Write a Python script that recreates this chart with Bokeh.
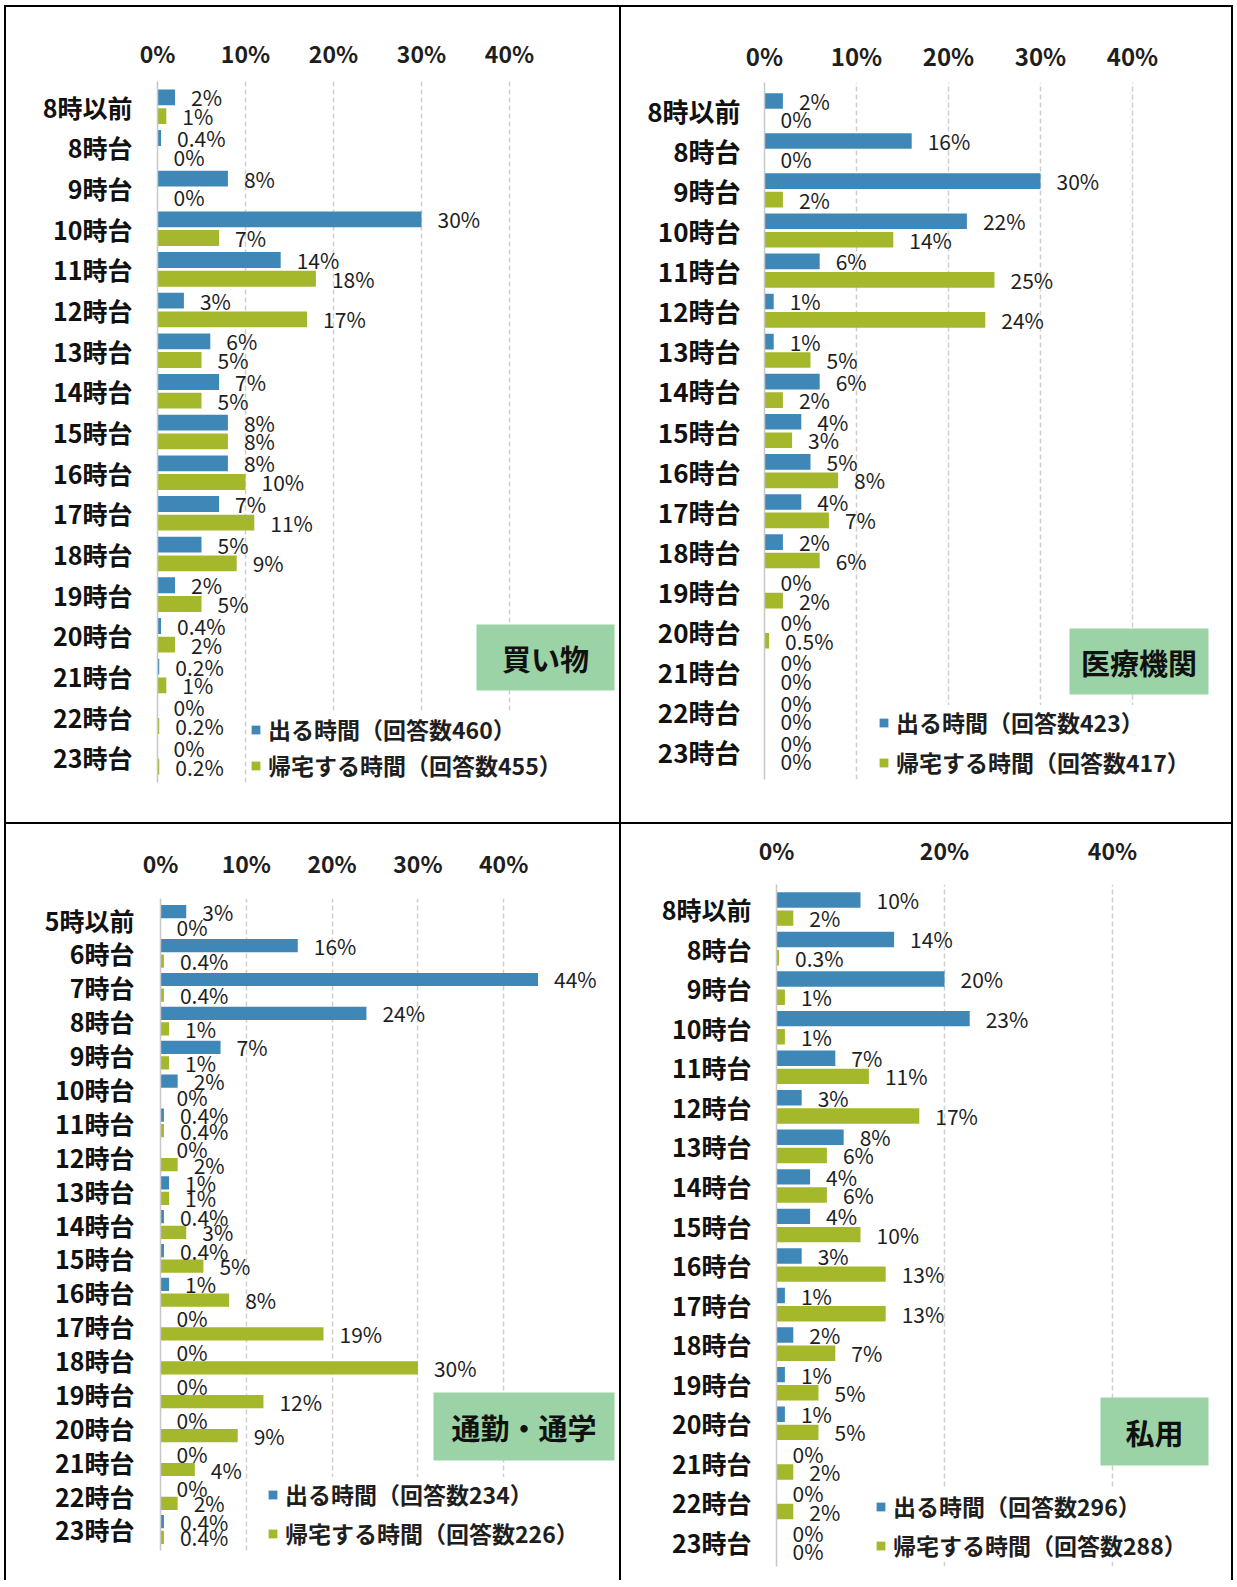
from bokeh.plotting import figure
from bokeh.models import (FactorRange, Range1d, FixedTicker, PrintfTickFormatter,
                          ColumnDataSource, Legend, LegendItem, BoxAnnotation, Label, Div, Spacer)
from bokeh.layouts import row, column
from bokeh.transform import dodge
from bokeh.core.properties import value
from bokeh.embed import file_html
from bokeh.resources import INLINE

FONT = "Noto Sans CJK JP"
BLUE = "#3F87B7"
GREEN = "#A5B82B"
BOXC = "#9BD3A6"
TXT = "#1E1E1E"

# ---------------- data ----------------
cats_8 = ["8時以前", "8時台", "9時台", "10時台", "11時台", "12時台", "13時台", "14時台",
          "15時台", "16時台", "17時台", "18時台", "19時台", "20時台", "21時台", "22時台", "23時台"]
cats_5 = ["5時以前", "6時台", "7時台", "8時台", "9時台", "10時台", "11時台", "12時台", "13時台",
          "14時台", "15時台", "16時台", "17時台", "18時台", "19時台", "20時台", "21時台", "22時台", "23時台"]

shop_out = [2, 0.4, 8, 30, 14, 3, 6, 7, 8, 8, 7, 5, 2, 0.4, 0.2, 0, 0]
shop_home = [1, 0, 0, 7, 18, 17, 5, 5, 8, 10, 11, 9, 5, 2, 1, 0.2, 0.2]

med_out = [2, 16, 30, 22, 6, 1, 1, 6, 4, 5, 4, 2, 0, 0, 0, 0, 0]
med_home = [0, 0, 2, 14, 25, 24, 5, 2, 3, 8, 7, 6, 2, 0.5, 0, 0, 0]

com_out = [3, 16, 44, 24, 7, 2, 0.4, 0, 1, 0.4, 0.4, 1, 0, 0, 0, 0, 0, 0, 0.4]
com_home = [0, 0.4, 0.4, 1, 1, 0, 0.4, 2, 1, 3, 5, 8, 19, 30, 12, 9, 4, 2, 0.4]

pri_out = [10, 14, 20, 23, 7, 3, 8, 4, 4, 3, 1, 2, 1, 1, 0, 0, 0]
pri_home = [2, 0.3, 1, 1, 11, 17, 6, 6, 10, 13, 13, 7, 5, 5, 2, 2, 0]

titles = ["買い物", "医療機関", "通勤・通学", "私用"]
n_out = [460, 423, 234, 296]
n_home = [455, 417, 226, 288]


def lbl(v):
    return f"{v:g}%"


def make_panel(cats, out, home, title, nout, nhome, g):
    yr = FactorRange(factors=cats[::-1], range_padding=g["rp"], range_padding_units="absolute")
    p = figure(width=g["w"], height=g["h"], output_backend="svg", toolbar_location=None,
               x_axis_location="above", y_range=yr, x_range=Range1d(0, g["xend"]),
               min_border_left=g["ml"], min_border_right=g["mr"],
               min_border_top=g["mt"], min_border_bottom=g["mb"], margin=0)
    if "frame_align" in p.properties():
        p.frame_align = False
    p.outline_line_color = None
    p.background_fill_color = "white"
    p.border_fill_color = "white"

    src = ColumnDataSource(dict(cat=cats, out=out, home=home,
                                out_l=[lbl(v) for v in out], home_l=[lbl(v) for v in home]))
    off = 0.23
    hh = 0.39
    r1 = p.hbar(y=dodge("cat", off, range=p.y_range), left=0, right="out", height=hh,
                source=src, fill_color=BLUE, line_color=None)
    r2 = p.hbar(y=dodge("cat", -off, range=p.y_range), left=0, right="home", height=hh,
                source=src, fill_color=GREEN, line_color=None)
    for col, lc, o in (("out", "out_l", off), ("home", "home_l", -off)):
        p.text(x=col, y=dodge("cat", o, range=p.y_range), text=lc, source=src,
               x_offset=16, text_align="left", text_baseline="middle",
               text_font=value(FONT), text_font_size=value("21px"), text_color=TXT)

    xa = p.xaxis[0]
    xa.ticker = FixedTicker(ticks=g["ticks"])
    xa.formatter = PrintfTickFormatter(format="%d%%")
    xa.axis_line_color = None
    xa.major_tick_line_color = None
    xa.minor_tick_line_color = None
    xa.major_label_text_font = FONT
    xa.major_label_text_font_size = g["tfs"]
    xa.major_label_text_font_style = "bold"
    xa.major_label_text_color = TXT
    xa.major_label_standoff = g["xso"]

    ya = p.yaxis[0]
    ya.axis_line_color = "#C8C8C8"
    ya.axis_line_width = 1.5
    ya.major_tick_line_color = None
    ya.minor_tick_line_color = None
    ya.major_label_text_font = FONT
    ya.major_label_text_font_size = g["cfs"]
    ya.major_label_text_font_style = "bold"
    ya.major_label_text_color = "#111111"
    ya.major_label_standoff = g["yso"]

    p.xgrid.ticker = FixedTicker(ticks=g["grid"])
    p.xgrid.grid_line_color = "#CFCFCF"
    p.xgrid.grid_line_dash = "5 3"
    p.xgrid.grid_line_width = 1.5
    p.ygrid.grid_line_color = None

    leg = Legend(items=[LegendItem(label=f"出る時間（回答数{nout}）", renderers=[r1]),
                        LegendItem(label=f"帰宅する時間（回答数{nhome}）", renderers=[r2])],
                 location=g["leg"], orientation="vertical")
    leg.glyph_width = 11
    leg.glyph_height = 11
    leg.label_standoff = 7
    leg.spacing = g["lsp"]
    leg.padding = 0
    leg.margin = 0
    leg.border_line_color = None
    leg.background_fill_color = "white"
    leg.background_fill_alpha = 1.0
    leg.label_text_font = FONT
    leg.label_text_font_size = "23px"
    leg.label_text_font_style = "bold"
    leg.label_text_color = TXT
    p.add_layout(leg, "center")

    bl, br, bb, bt = g["box"]
    p.add_layout(BoxAnnotation(left=bl, right=br, bottom=bb, top=bt,
                               left_units="screen", right_units="screen",
                               bottom_units="screen", top_units="screen",
                               fill_color=BOXC, fill_alpha=1.0, line_color=None))
    p.add_layout(Label(x=(bl + br) / 2, y=(bb + bt) / 2, x_units="screen", y_units="screen",
                       text=title, text_align="center", text_baseline="middle",
                       text_font=FONT, text_font_size="29px", text_font_style="bold",
                       text_color="#111111"))
    return p


g1 = dict(w=613, h=815, ml=151, mr=2, mt=74, mb=40, xend=460 / 8.8, rp=0.12,
          ticks=[0, 10, 20, 30, 40], grid=[10, 20, 30, 40], tfs="23px", cfs="25px",
          xso=6, yso=19, leg=(93, 0), lsp=2, box=(319, 457, 92, 158))
g2 = dict(w=610, h=815, ml=143, mr=2, mt=75, mb=43, xend=465 / 9.2, rp=0.19,
          ticks=[0, 10, 20, 30, 40], grid=[10, 20, 30, 40], tfs="24px", cfs="26px",
          xso=4, yso=18, leg=(114, 0), lsp=6, box=(305, 444, 85, 151))
g3 = dict(w=613, h=756, ml=154, mr=2, mt=74, mb=30, xend=457 / 8.58, rp=0.12,
          ticks=[0, 10, 20, 30, 40], grid=[10, 20, 30, 40], tfs="23px", cfs="25px",
          xso=13, yso=20, leg=(107, 0), lsp=5, box=(273, 454, 90, 158))
g4 = dict(w=610, h=756, ml=155, mr=2, mt=60, mb=14, xend=453 / 8.4, rp=0.12,
          ticks=[0, 20, 40], grid=[20, 40], tfs="23px", cfs="25px",
          xso=12, yso=19, leg=(99, 4), lsp=5, box=(324, 432, 101, 169))

p1 = make_panel(cats_8, shop_out, shop_home, titles[0], n_out[0], n_home[0], g1)
p2 = make_panel(cats_8, med_out, med_home, titles[1], n_out[1], n_home[1], g2)
p3 = make_panel(cats_5, com_out, com_home, titles[2], n_out[2], n_home[2], g3)
p4 = make_panel(cats_8, pri_out, pri_home, titles[3], n_out[3], n_home[3], g4)


def bar(w, h):
    return Div(text="", width=w, height=h, margin=0, styles={"background-color": "#000000"})


row1 = row(bar(2, 815), p1, bar(2, 815), p2, bar(2, 815), spacing=0)
row2 = row(bar(2, 756), p3, bar(2, 756), p4, bar(2, 756), spacing=0)
inner = column(bar(1229, 2), row1, bar(1229, 2), row2, spacing=0)
lay = column(Spacer(width=1233, height=5, margin=0),
             row(Spacer(width=4, height=1575, margin=0), inner, spacing=0),
             spacing=0)

open("out.html", "w").write(file_html(lay, INLINE))
